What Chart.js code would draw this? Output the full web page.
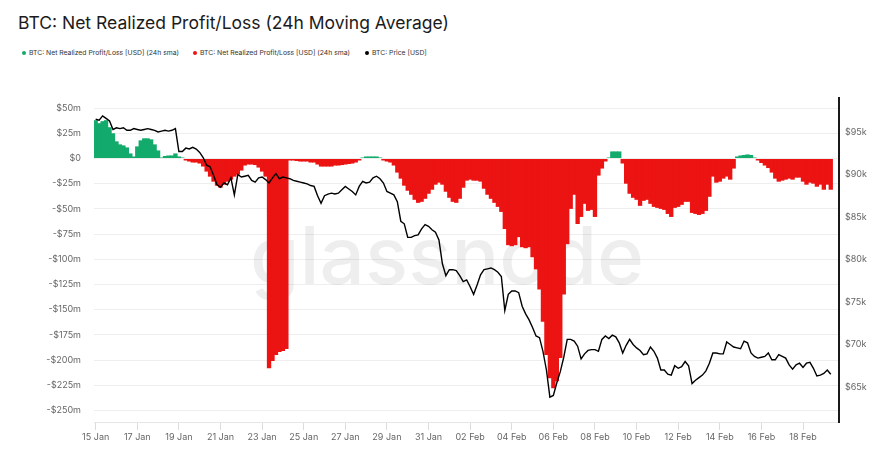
<!DOCTYPE html>
<html>
<head>
<meta charset="utf-8">
<title>BTC: Net Realized Profit/Loss (24h Moving Average)</title>
<script src="https://cdn.jsdelivr.net/npm/chart.js@4.4.1/dist/chart.umd.min.js"></script>
<style>
  html, body { margin: 0; padding: 0; background: #fff; }
  #wrap { position: relative; width: 881px; height: 465px; overflow: hidden; font-family: Inter, "Noto Sans", sans-serif; }
  #title { position: absolute; left: 18px; top: 12px; font-size: 17.5px; color: #1b1b1b; white-space: nowrap; }
  .item { position: absolute; top: 48px; font-size: 6.8px; color: #333; white-space: nowrap; display: flex; align-items: center; }
  .dot { width: 4px; height: 4px; border-radius: 50%; margin-right: 3px; }
  canvas { position: absolute; left: 0; top: 0; }
</style>
</head>
<body>
<div id="wrap">
  <div id="title">BTC: Net Realized Profit/Loss (24h Moving Average)</div>
  <div class="item" style="left:22px"><span class="dot" style="background:#13ab6c"></span>BTC: Net Realized Profit/Loss [USD] (24h sma)</div>
  <div class="item" style="left:193px"><span class="dot" style="background:#ec1313"></span>BTC: Net Realized Profit/Loss [USD] (24h sma)</div>
  <div class="item" style="left:365px"><span class="dot" style="background:#000"></span>BTC: Price [USD]</div>
  <canvas id="chart" width="881" height="465"></canvas>
</div>
<script>
// one sample every 4 hours, starting 15 Jan 00:00 (x axis in days)
const stepDays = 4 / 24;

const dateTicks = [0, 2, 4, 6, 8, 10, 12, 14, 16, 18, 20, 22, 24, 26, 28, 30, 32, 34];
const dateLabels = ['15 Jan', '17 Jan', '19 Jan', '21 Jan', '23 Jan', '25 Jan', '27 Jan', '29 Jan', '31 Jan',
  '02 Feb', '04 Feb', '06 Feb', '08 Feb', '10 Feb', '12 Feb', '14 Feb', '16 Feb', '18 Feb'];
const plTicks = [50, 25, 0, -25, -50, -75, -100, -125, -150, -175, -200, -225, -250];
const priceTicks = [65, 70, 75, 80, 85, 90, 95];

// net realized profit/loss, $m (24h sma)
const netPL = [
  38, 35, 37, 38, 31, 25, 17, 14, 13, 11, 5, 2, 12, 18, 20, 20, 19, 14, 8, 1,
  2.5, 3, 3, 5, 2, 1, -2, -3, -4, -4, -5, -8, -13, -18, -23, -27, -29, -26, -23, -21,
  -18, -16, -12, -7, -6, -6, -6.5, -9, -13, -18, -208, -201, -195, -192, -191, -189, -2, -2, -2.5, -3,
  -3, -3, -4, -4, -6, -8, -8, -8, -8, -7, -7, -6.5, -6, -5.5, -5, -4, -2, 1, 2, 2,
  2, 2, 1, -2, -3, -4, -7, -14, -20, -27, -32, -36, -41, -44, -43, -40, -35, -31, -26, -24,
  -26, -33, -39, -43, -44, -40, -29, -22, -21, -22, -22, -23, -30, -36, -40, -44, -48, -53, -70, -86,
  -87, -86, -78, -88, -89, -88, -98, -110, -130, -162, -195, -218, -228, -221, -198, -135, -85, -50, -36, -65,
  -58, -45, -52, -51, -58, -17, -10, -3, 1, 7, 7, 7, -5, -25, -35, -39, -41, -47, -42, -41,
  -45, -48, -49, -50, -51, -55, -58, -49, -48, -46, -43, -43, -54, -55, -56, -55, -52, -38, -18, -24,
  -23, -20, -18, -21, -10, 2, 3, 3.5, 4, 3.5, 1, -2, -4.5, -7, -9.5, -14, -20, -23, -22, -21,
  -20, -21, -19, -19, -23, -26, -24, -25, -28, -26, -31, -26, -31
];

// BTC price, $k
const price = [
  96.5, 96.4, 96.9, 96.6, 96.3, 95.3, 95.5, 95.4, 95.5, 95.2, 95.2, 95.4, 95.3, 95.2, 95.3, 95.4, 95.3, 95.2, 95.0, 95.1,
  95.2, 95.1, 95.2, 95.4, 92.7, 92.7, 93.1, 93.0, 93.2, 93.0, 92.6, 92.0, 91.1, 90.9, 89.9, 88.8, 88.5, 89.0, 88.8, 89.6,
  87.6, 90.0, 89.7, 89.8, 89.9, 89.3, 89.1, 89.6, 89.7, 89.4, 89.0, 89.6, 90.1, 89.5, 89.7, 89.6, 89.5, 89.3, 89.2, 89.1,
  89.0, 88.9, 88.7, 88.6, 87.5, 86.6, 87.5, 87.7, 87.8, 87.7, 87.8, 88.2, 88.6, 88.3, 88.0, 87.6, 88.6, 89.2, 89.0, 89.1,
  89.6, 89.8, 89.5, 89.0, 88.0, 87.8, 87.6, 86.8, 84.5, 84.2, 82.6, 82.6, 82.8, 82.9, 83.6, 84.1, 83.9, 83.5, 83.2, 82.3,
  79.5, 78.1, 78.8, 78.8, 78.7, 78.1, 77.4, 77.6, 76.8, 75.9, 77.0, 78.2, 78.8, 78.9, 79.0, 78.8, 78.5, 78.0, 74.0, 75.9,
  76.3, 76.3, 76.1, 74.5, 73.6, 72.9, 72.0, 71.0, 70.8, 69.2, 67.0, 63.8, 64.0, 65.5, 66.8, 68.5, 70.6, 70.6, 70.4, 69.8,
  68.3, 68.9, 69.3, 69.4, 69.4, 69.2, 70.6, 71.0, 70.7, 71.1, 70.9, 70.2, 69.0, 69.9, 70.6, 70.0, 69.6, 69.3, 68.8, 68.9,
  69.7, 69.2, 68.4, 67.0, 67.0, 66.5, 66.4, 67.5, 67.2, 67.4, 68.0, 67.5, 65.4, 65.8, 66.1, 66.4, 66.9, 67.8, 69.0, 69.0,
  68.9, 68.9, 70.3, 70.0, 69.7, 69.6, 69.5, 70.4, 70.2, 69.0, 68.6, 68.4, 68.5, 68.6, 69.0, 68.2, 68.2, 68.8, 68.6, 68.4,
  67.6, 67.1, 67.6, 67.8, 67.3, 67.8, 67.9, 67.2, 66.3, 66.4, 66.6, 67.0, 66.5
];

const profitPts = netPL.map((v, i) => ({ x: i * stepDays, y: v > 0 ? v : null }));
const lossPts = netPL.map((v, i) => ({ x: i * stepDays, y: v < 0 ? v : null }));
const pricePts = price.map((v, i) => ({ x: i * stepDays, y: v }));

const tickFont = { family: 'Inter', size: 9 };
const tickColor = '#666';

const watermark = {
  id: 'watermark',
  beforeDatasetsDraw(chart) {
    const ctx = chart.ctx;
    ctx.save();
    ctx.font = '500 80px Inter';
    ctx.fillStyle = 'rgba(0,0,0,0.065)';
    ctx.textAlign = 'center';
    ctx.fillText('glassnode', 447, 284);
    ctx.restore();
  }
};

const barStyle = {
  yAxisID: 'y',
  barPercentage: 1.25,
  categoryPercentage: 1,
  borderWidth: 0,
  grouped: false,
  order: 1
};

new Chart(document.getElementById('chart'), {
  type: 'bar',
  data: {
    datasets: [
      {
        type: 'line',
        label: 'BTC: Price [USD]',
        data: pricePts,
        yAxisID: 'y1',
        borderColor: '#000',
        borderWidth: 1.4,
        pointRadius: 0,
        tension: 0,
        order: 0
      },
      Object.assign({
        label: 'BTC: Net Realized Profit/Loss [USD] (24h sma)',
        data: profitPts,
        backgroundColor: '#13ab6c'
      }, barStyle),
      Object.assign({
        label: 'BTC: Net Realized Profit/Loss [USD] (24h sma)',
        data: lossPts,
        backgroundColor: '#ec1313'
      }, barStyle)
    ]
  },
  options: {
    responsive: false,
    animation: false,
    layout: { padding: { top: 98, left: 0, right: 0, bottom: 0 } },
    plugins: {
      legend: { display: false },
      tooltip: { enabled: false }
    },
    scales: {
      x: {
        type: 'linear',
        offset: false,
        min: -0.08,
        max: 35.73,
        afterFit: s => { s.height = 43; },
        afterBuildTicks: s => { s.ticks = dateTicks.map(v => ({ value: v })); },
        ticks: {
          font: tickFont,
          color: tickColor,
          padding: 2,
          maxRotation: 0,
          autoSkip: false,
          callback: v => dateLabels[dateTicks.indexOf(v)]
        },
        grid: { offset: false, drawOnChartArea: false, drawTicks: true, tickLength: 8, color: '#dcdcdc' },
        border: { color: '#e6e6e6' }
      },
      y: {
        position: 'left',
        min: -261.4,
        max: 60,
        afterFit: s => { s.width = 94; },
        afterBuildTicks: s => { s.ticks = plTicks.map(v => ({ value: v })); },
        ticks: {
          font: tickFont,
          color: tickColor,
          padding: 13,
          callback: v => v === 0 ? '$0' : (v < 0 ? '-' : '') + '$' + Math.abs(v) + 'm'
        },
        grid: { color: '#eeeeee', drawTicks: false },
        border: { display: false }
      },
      y1: {
        position: 'right',
        min: 60.88,
        max: 99,
        afterFit: s => { s.width = 42; },
        afterBuildTicks: s => { s.ticks = priceTicks.map(v => ({ value: v })); },
        ticks: {
          font: tickFont,
          color: tickColor,
          padding: 6,
          callback: v => '$' + v + 'k'
        },
        grid: { display: false, drawTicks: false },
        border: { color: '#1a1a1a', width: 2 }
      }
    }
  },
  plugins: [watermark]
});
</script>
</body>
</html>
